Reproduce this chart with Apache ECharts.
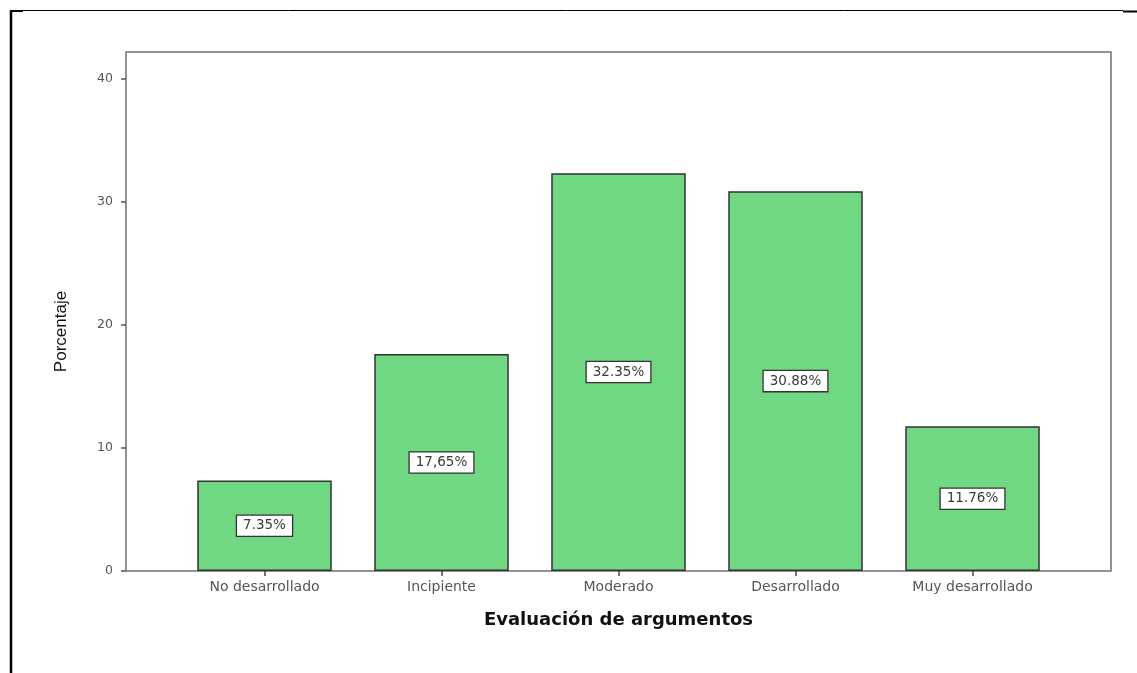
<!DOCTYPE html>
<html>
<head>
<meta charset="utf-8">
<script src="https://cdn.jsdelivr.net/npm/echarts@6/dist/echarts.min.js"></script>
<style>
  html, body { margin: 0; padding: 0; background: #fff; }
  #chart { width: 1137px; height: 673px; }
</style>
</head>
<body>
<div id="chart"></div>
<script>
const categories = ["No desarrollado", "Incipiente", "Moderado", "Desarrollado", "Muy desarrollado"];
const percentages = [7.35, 17.65, 32.35, 30.88, 11.76];
const barLabels = ["7.35%", "17,65%", "32.35%", "30.88%", "11.76%"];
const yTicks = [0, 10, 20, 30, 40];

const chart = echarts.init(document.getElementById("chart"));

const font = "'DejaVu Sans', Arial, sans-serif";

chart.setOption({
  animation: false,
  backgroundColor: "#fff",
  // page frame around the figure
  graphic: [
    { type: "line", shape: { x1: 10, y1: 10.5, x2: 1123, y2: 10.5 }, style: { stroke: "#000", lineWidth: 1 } },
    { type: "line", shape: { x1: 1123, y1: 11.5, x2: 1137, y2: 11.5 }, style: { stroke: "#000", lineWidth: 2 } },
    { type: "line", shape: { x1: 11, y1: 10, x2: 11, y2: 673 }, style: { stroke: "#000", lineWidth: 2.5 } },
    { type: "line", shape: { x1: 10, y1: 11, x2: 23, y2: 11 }, style: { stroke: "#000", lineWidth: 2 } }
  ],
  grid: [
    { left: 176, right: 76, top: 52, bottom: 102, outerBoundsMode: "none" },
    { left: 126, right: 26, top: 52, bottom: 102, outerBoundsMode: "none", show: true, borderColor: "#707070", borderWidth: 1.5, backgroundColor: "transparent" }
  ],
  xAxis: [
    {
      type: "category",
      gridIndex: 0,
      data: categories,
      axisLine: { show: false },
      axisTick: { show: true, alignWithLabel: true, length: 5, lineStyle: { color: "#444", width: 1.5 } },
      axisLabel: { color: "#555", fontSize: 14, fontFamily: font, margin: 9 },
      name: "Evaluación de argumentos",
      nameLocation: "middle",
      nameGap: 40,
      nameTextStyle: { color: "#111", fontSize: 18, fontWeight: "bold", fontFamily: font }
    },
    { type: "value", gridIndex: 1, show: false }
  ],
  yAxis: [
    {
      type: "value",
      gridIndex: 0,
      min: 0,
      max: 42.2,
      interval: 10,
      offset: 50,
      axisLine: { show: false },
      axisTick: { show: true, length: 5, customValues: yTicks, lineStyle: { color: "#555", width: 1.5 } },
      axisLabel: { color: "#555", fontSize: 12.5, fontFamily: font, margin: 13, customValues: yTicks },
      splitLine: { show: false },
      name: "Porcentaje",
      nameLocation: "middle",
      nameGap: 56,
      nameRotate: 90,
      nameTextStyle: { color: "#111", fontSize: 17, padding: [0, 40, 0, 0], fontFamily: "'Liberation Sans Narrow', 'Liberation Sans', Arial, sans-serif" }
    },
    { type: "value", gridIndex: 1, show: false }
  ],
  series: [
    {
      type: "bar",
      xAxisIndex: 0,
      yAxisIndex: 0,
      data: percentages,
      barWidth: "76%",
      itemStyle: { color: "#70d782", borderColor: "#333", borderWidth: 1.5 },
      label: {
        show: true,
        position: "inside",
        formatter: (p) => barLabels[p.dataIndex],
        color: "#3a3a3a",
        fontSize: 13.5,
        fontFamily: font,
        backgroundColor: "#fff",
        borderColor: "#333",
        borderWidth: 1.3,
        padding: [3, 6]
      }
    }
  ]
});
</script>
</body>
</html>
